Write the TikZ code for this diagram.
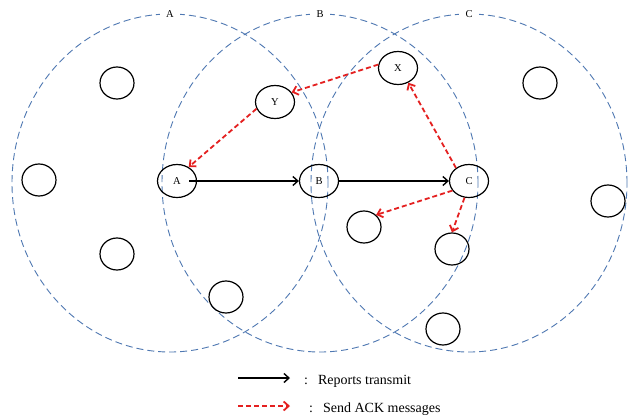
\documentclass[tikz,border=0pt]{standalone}
\usepackage{fontspec}
\setmainfont{Liberation Serif}
\usetikzlibrary{shapes.geometric,arrows.meta}
\definecolor{rangeblue}{RGB}{79,120,178}
\definecolor{ackred}{RGB}{228,32,32}
\begin{document}
\begin{tikzpicture}[x=1pt,y=-1pt,
 rangecirc/.style={ellipse,draw=rangeblue,line width=0.9pt,dash pattern=on 7pt off 4pt,minimum width=316pt,minimum height=338pt,inner sep=0pt,outer sep=0pt},
 rangelabel/.style={fill=white,inner sep=0pt,minimum width=20pt,minimum height=12pt,font=\fontsize{10.5}{12}\selectfont},
 sensor/.style={ellipse,draw,line width=1.2pt,minimum width=34pt,minimum height=32pt,inner sep=0pt,font=\fontsize{10.5}{12}\selectfont},
 keysensor/.style={sensor,minimum width=39pt,minimum height=33pt},
 report/.style={line width=1.4pt,-{Straight Barb[length=5pt,width=9pt]}},
 ack/.style={ackred,line width=1.8pt,dash pattern=on 5pt off 3pt,-{Straight Barb[length=5pt,width=9pt]}},
 legendtext/.style={anchor=base west,inner sep=0pt,font=\fontsize{14}{16}\selectfont}]
\useasboundingbox (0,0) rectangle (629,415);
\fill[white] (0,0) rectangle (629,415);
% communication ranges
\node[rangecirc] (RA) at (170,183) {};
\node[rangecirc] (RB) at (320,183) {};
\node[rangecirc] (RC) at (469,183) {};
\node[rangelabel] (LA) at (RA.north) {A};
\node[rangelabel] (LB) at (RB.north) {B};
\node[rangelabel] (LC) at (RC.north) {C};
% sensors
\node[sensor] (n1) at (117,83) {};
\node[sensor] (n2) at (39,180) {};
\node[sensor] (n3) at (117,254) {};
\node[sensor] (n4) at (226,297) {};
\node[sensor] (n5) at (540,83) {};
\node[sensor] (n6) at (608,201) {};
\node[sensor] (n7) at (364,227) {};
\node[sensor] (n8) at (452,249) {};
\node[sensor] (n9) at (443,329) {};
\node[keysensor] (Y) at (275,102) {Y};
\node[keysensor] (X) at (398,68) {X};
\node[keysensor] (A) at (177,181) {A};
\node[keysensor] (B) at (319,181) {B};
\node[keysensor] (C) at (469,181) {C};
% reports
\draw[report] ([xshift=12pt]A.center) -- (B.west);
\draw[report] (B.east) -- (C.west);
% ACKs
\draw[ack] (X.170) -- (Y.30);
\draw[ack] (Y.200) -- (A.50);
\draw[ack] (C.135) -- (X.305);
\draw[ack] (C.210) -- (n7.45);
\draw[ack] (C.255) -- (n8.north);
% legend
\coordinate (k1s) at (238,378);
\coordinate (k1e) at (290,378);
\draw[report] (k1s) -- (k1e);
\node[legendtext] (t1) at (304,384) {:\hspace{10pt}Reports transmit};
\coordinate (k2s) at (238,406);
\coordinate (k2e) at (290,406);
\draw[ack] (k2s) -- (k2e);
\node[legendtext] (t2) at (309,412) {:\hspace{10pt}Send ACK messages};
\end{tikzpicture}
\end{document}
